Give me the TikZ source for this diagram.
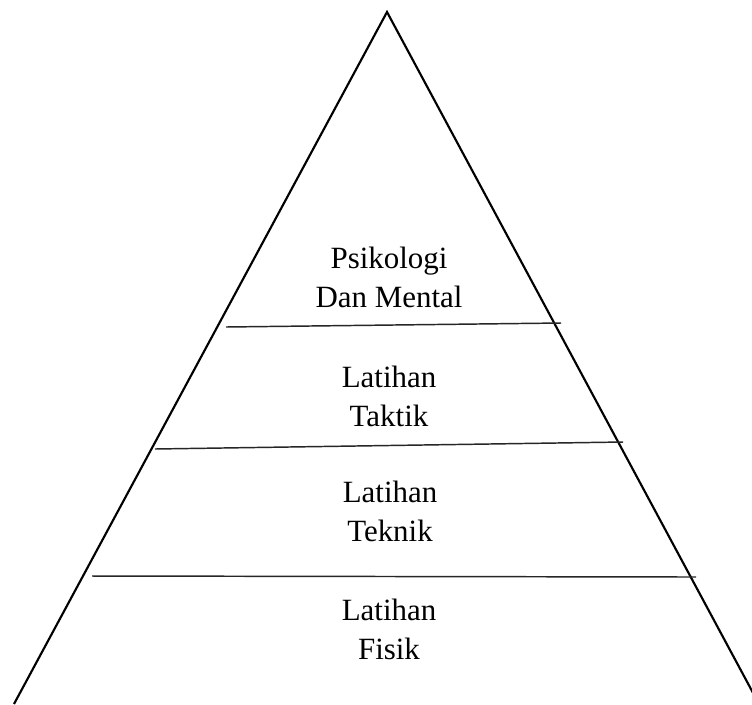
\documentclass[tikz,border=0pt]{standalone}
\usepackage{fontspec}
\setmainfont{Liberation Serif}
\begin{document}
\begin{tikzpicture}[x=0.75pt,y=-0.75pt,
  side/.style={line width=1.6pt,black},
  tier/.style={line width=1.1pt,black!85},
  label/.style={align=center,inner sep=0pt,font=\fontsize{23.2}{29.25}\selectfont}]
\clip (0,0) rectangle (752,704);
\fill[white] (0,0) rectangle (752,704);
\coordinate (apex) at (387,12);
\coordinate (bl) at (14,704);
\coordinate (br) at (759,704);
\draw[side,line join=miter] (bl) -- (apex) -- (br);
\coordinate (a1) at (226,327); \coordinate (b1) at (561,323);
\coordinate (a2) at (155,449); \coordinate (b2) at (623,442);
\coordinate (a3) at (92,576);  \coordinate (b3) at (696,577);
\draw[tier] (a1) -- (b1);
\draw[tier] (a2) -- (b2);
\draw[tier] (a3) -- (b3);
\node[label,anchor=base] (psi) at (389,307) {Psikologi\\Dan Mental};
\node[label,anchor=base] (tak) at (389,426) {Latihan\\Taktik};
\node[label,anchor=base] (tek) at (390,541) {Latihan\\Teknik};
\node[label,anchor=base] (fis) at (389,659) {Latihan\\Fisik};
\end{tikzpicture}
\end{document}
